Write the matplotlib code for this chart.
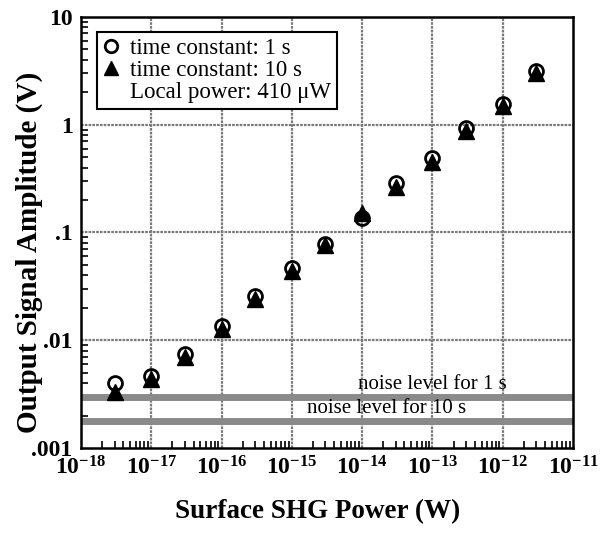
import matplotlib
matplotlib.use("Agg")
import matplotlib.pyplot as plt
from matplotlib.lines import Line2D
from matplotlib.ticker import LogLocator, NullFormatter, FixedLocator

# data
shg_power = [3e-18, 1e-17, 3e-17, 1e-16, 3e-16, 1e-15, 3e-15, 1e-14, 3e-14, 1e-13, 3e-13, 1e-12, 3e-12]
amp_1s = [0.0040, 0.0047, 0.0074, 0.0135, 0.026, 0.047, 0.078, 0.135, 0.286, 0.49, 0.93, 1.55, 3.16]
amp_10s = [0.0033, 0.0044, 0.0070, 0.0127, 0.024, 0.044, 0.076, 0.151, 0.263, 0.45, 0.88, 1.49, 3.04]
noise_1s = 0.0030
noise_10s = 0.00178
x_ticks = [1e-18, 1e-17, 1e-16, 1e-15, 1e-14, 1e-13, 1e-12, 1e-11]
x_tick_labels = [r"$10^{-18}$", r"$10^{-17}$", r"$10^{-16}$", r"$10^{-15}$",
                 r"$10^{-14}$", r"$10^{-13}$", r"$10^{-12}$", r"$10^{-11}$"]
y_ticks = [0.001, 0.01, 0.1, 1, 10]
y_tick_labels = [".001", ".01", ".1", "1", "10"]

plt.rcParams["font.family"] = "Liberation Serif"
plt.rcParams["mathtext.fontset"] = "custom"
plt.rcParams["mathtext.rm"] = "Liberation Serif:bold"
plt.rcParams["mathtext.it"] = "Liberation Serif:bold"
plt.rcParams["mathtext.bf"] = "Liberation Serif:bold"

fig = plt.figure(figsize=(6, 5.4), dpi=100)
ax = fig.add_axes([0.135, 0.170, 0.820, 0.799])
ax.set_xscale("log")
ax.set_yscale("log")
ax.set_xlim(1e-18, 1e-11)
ax.set_ylim(1e-3, 10)

GRID = "#7a7a7a"
for xv in x_ticks[1:-1]:
    ax.axvline(xv, color=GRID, lw=1.6, ls=(0, (1.2, 0.5)), zorder=1)
for yv in y_ticks[1:-1]:
    ax.axhline(yv, color=GRID, lw=1.6, ls=(0, (1.2, 0.5)), zorder=1)

# noise bands
ax.axhline(noise_1s, color="#8a8a8a", lw=5, zorder=2)
ax.axhline(noise_10s, color="#8a8a8a", lw=5, zorder=2)
ax.text(1e-13, noise_1s * 1.06, "noise level for 1 s", fontsize=15,
        ha="center", va="bottom", zorder=3)
ax.text(2.2e-14, noise_10s * 1.06, "noise level for 10 s", fontsize=15,
        ha="center", va="bottom", zorder=3)

ax.plot(shg_power, amp_10s, ls="none", marker="^", ms=11, color="black", zorder=4)
ax.plot(shg_power, amp_1s, ls="none", marker="o", ms=10, mfc="none", mec="black",
        mew=2, zorder=5)

ax.xaxis.set_major_locator(FixedLocator(x_ticks))
ax.set_xticklabels(x_tick_labels)
ax.yaxis.set_major_locator(FixedLocator(y_ticks))
ax.set_yticklabels(y_tick_labels, fontweight="bold")
ax.xaxis.set_minor_locator(LogLocator(base=10, subs=range(2, 10), numticks=20))
ax.yaxis.set_minor_locator(LogLocator(base=10, subs=range(2, 10), numticks=20))
ax.xaxis.set_minor_formatter(NullFormatter())
ax.yaxis.set_minor_formatter(NullFormatter())
ax.tick_params(which="major", length=0, labelsize=17, pad=6)
ax.tick_params(which="minor", direction="in", length=5, width=1.2)
for s in ax.spines.values():
    s.set_linewidth(1.8)

ax.set_xlabel("Surface SHG Power (W)", fontsize=19.5, fontweight="bold")
ax.set_ylabel("Output Signal Amplitude (V)", fontsize=21, fontweight="bold")
ax.xaxis.set_label_coords(0.48, -0.118)
ax.yaxis.set_label_coords(-0.078, 0.455)

handles = [
    Line2D([], [], ls="none", marker="o", ms=9, mfc="none", mec="black", mew=2),
    Line2D([], [], ls="none", marker="^", ms=10, color="black"),
    Line2D([], [], ls="none"),
]
labels = ["time constant: 1 s", "time constant: 10 s", "Local power: 410 \u03bcW"]
leg = ax.legend(handles, labels, loc="upper left", bbox_to_anchor=(0.033, 0.965),
                fontsize=16.5, fancybox=False, framealpha=1, edgecolor="black",
                handlelength=0.7, handletextpad=0.5, borderpad=0.25, labelspacing=0.05,
                borderaxespad=0)
leg.get_frame().set_linewidth(1.5)
leg.set_zorder(6)

fig.savefig("out.png", dpi=100)
